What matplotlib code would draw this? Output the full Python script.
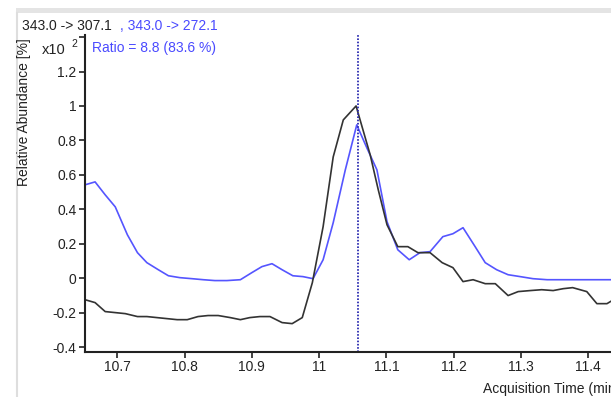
import matplotlib
matplotlib.use("Agg")
import matplotlib.pyplot as plt
from matplotlib.patches import Rectangle
from matplotlib.lines import Line2D

plt.rcParams['font.family'] = ['Liberation Sans', 'DejaVu Sans']

# quantifier trace 343.0 -> 307.1 (black)
t_quant = [10.652, 10.667, 10.682, 10.697, 10.712, 10.730, 10.744, 10.759, 10.774, 10.789,
           10.804, 10.820, 10.835, 10.850, 10.868, 10.883, 10.897, 10.912, 10.927, 10.945,
           10.960, 10.975, 10.990, 11.006, 11.021, 11.036, 11.055, 11.064, 11.076, 11.088,
           11.101, 11.117, 11.132, 11.147, 11.165, 11.183, 11.199, 11.214, 11.229, 11.247,
           11.262, 11.281, 11.296, 11.314, 11.331, 11.348, 11.363, 11.377, 11.398, 11.413,
           11.428, 11.440]
y_quant = [-0.125, -0.142, -0.194, -0.200, -0.206, -0.223, -0.223, -0.229, -0.235, -0.241,
           -0.241, -0.223, -0.217, -0.217, -0.229, -0.241, -0.229, -0.223, -0.223, -0.258,
           -0.264, -0.229, -0.026, 0.299, 0.704, 0.919, 1.000, 0.878, 0.716, 0.513,
           0.310, 0.183, 0.183, 0.148, 0.148, 0.090, 0.061, -0.020, -0.009, -0.032,
           -0.032, -0.101, -0.078, -0.072, -0.067, -0.072, -0.061, -0.055, -0.078, -0.148,
           -0.148, -0.120]

# qualifier trace 343.0 -> 272.1 (blue)
t_qual = [10.652, 10.667, 10.682, 10.697, 10.715, 10.730, 10.744, 10.761, 10.776, 10.793,
          10.811, 10.828, 10.845, 10.863, 10.883, 10.900, 10.915, 10.930, 10.945, 10.961,
          10.976, 10.991, 11.006, 11.021, 11.039, 11.056, 11.071, 11.086, 11.101, 11.117,
          11.134, 11.150, 11.165, 11.184, 11.199, 11.214, 11.232, 11.247, 11.264, 11.281,
          11.299, 11.318, 11.339, 11.358, 11.383, 11.407, 11.440]
y_qual = [0.542, 0.559, 0.484, 0.414, 0.252, 0.148, 0.090, 0.049, 0.014, 0.003,
          -0.003, -0.009, -0.014, -0.014, -0.009, 0.032, 0.067, 0.084, 0.049, 0.014,
          0.009, -0.003, 0.107, 0.322, 0.629, 0.890, 0.757, 0.629, 0.328, 0.165,
          0.107, 0.148, 0.154, 0.241, 0.258, 0.293, 0.183, 0.090, 0.049, 0.020,
          0.009, -0.003, -0.009, -0.009, -0.009, -0.009, -0.009]

rt_marker = 11.058
xticks = [10.7, 10.8, 10.9, 11.0, 11.1, 11.2, 11.3, 11.4]
xlabels = ['10.7', '10.8', '10.9', '11', '11.1', '11.2', '11.3', '11.4']
yticks = [-0.4, -0.2, 0.0, 0.2, 0.4, 0.6, 0.8, 1.0, 1.2, 1.4]
ylabels = ['-0.4', '-0.2', '0', '0.2', '0.4', '0.6', '0.8', '1', '1.2', '']

W, H = 611, 397
fig = plt.figure(figsize=(W / 100, H / 100), dpi=100)

# light grey window frame
fig.add_artist(Rectangle((16 / W, 1 - 13 / H), 1, 5 / H, transform=fig.transFigure,
                         color='#e4e4e4', lw=0))
fig.add_artist(Line2D([17 / W, 17 / W], [0, 1 - 13 / H], transform=fig.transFigure,
                      color='#dedede', lw=1.5))

ax = fig.add_axes([85 / W, 1 - 351.7 / H, 1 - 85 / W, (351.7 - 35) / H])
ax.plot(t_qual, y_qual, color='#5555ff', lw=1.2)
ax.plot(t_quant, y_quant, color='#333333', lw=1.2)
ax.axvline(rt_marker, color='#2a2ab0', lw=1.3, linestyle=(0, (0.9, 0.9)))

ax.set_xlim(10.652, 11.434)
ax.set_ylim(-0.427, 1.412)
ax.set_xticks(xticks)
ax.set_xticklabels(xlabels)
ax.set_yticks(yticks)
ax.set_yticklabels(ylabels)
ax.tick_params(direction='out', length=4, width=1.2, labelsize=10, pad=2,
               colors='#222222')
for s in ['top', 'right']:
    ax.spines[s].set_visible(False)
for s in ['left', 'bottom']:
    ax.spines[s].set_linewidth(1.5)
    ax.spines[s].set_color('#222222')

# header texts
fig.text(22 / W, 1 - 30 / H, '343.0 -> 307.1', fontsize=10, color='#222222', va='baseline')
fig.text(120 / W, 1 - 30 / H, ', 343.0 -> 272.1', fontsize=10, color='#4a4aff', va='baseline')
fig.text(42 / W, 1 - 53.5 / H, 'x10', fontsize=10.5, color='#222222', va='baseline')
fig.text(71 / W, 1 - 47 / H, '2', fontsize=7.5, color='#222222', va='baseline')
fig.text(92 / W, 1 - 52 / H, 'Ratio = 8.8 (83.6 %)', fontsize=10, color='#4a4aff', va='baseline')
fig.text(24 / W, 1 - 38 / H, 'Relative Abundance [%]', fontsize=10, color='#222222',
         rotation=90, ha='center', va='top')
# axis title is cut by the right edge, as in the source screenshot
fig.text(483 / W, 1 - 393 / H, 'Acquisition Time (min)', fontsize=10, color='#222222',
         va='baseline')

fig.savefig('out.png', dpi=100)
